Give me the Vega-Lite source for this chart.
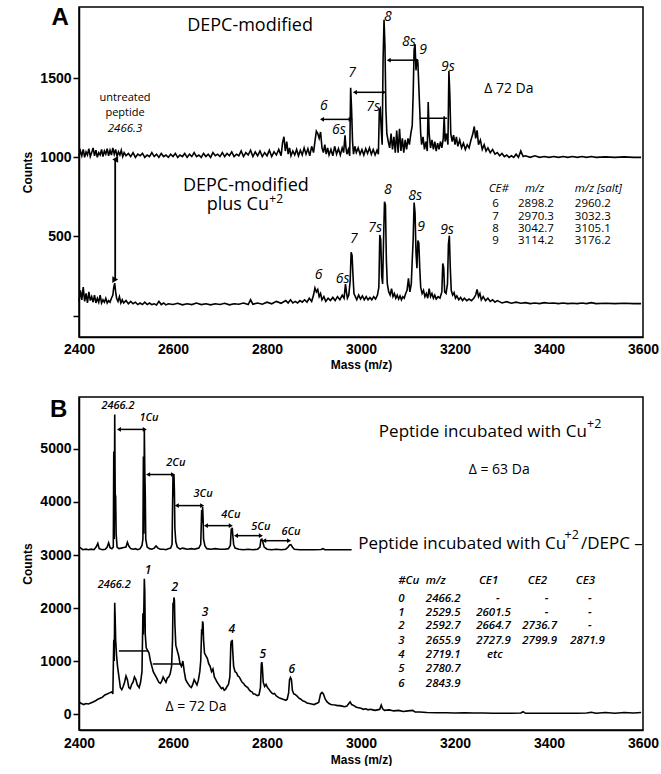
{
"$schema": "https://vega.github.io/schema/vega-lite/v6.json",
"padding": {"left": 20, "top": 5, "right": 0, "bottom": 0},
"background": "white",
"spacing": 60,
"bounds": "flush",
"config": {
  "font": "Open Sans",
  "view": {"stroke": "#000", "strokeWidth": 1.5},
  "axis": {"domainColor": "#000", "domainWidth": 1.5, "tickColor": "#000", "tickWidth": 1.5, "labelColor": "#000", "titleColor": "#000", "grid": false,
    "labelFont": "Liberation Sans Narrow, Liberation Sans", "labelFontWeight": "bold", "labelFontSize": 14,
    "titleFont": "Liberation Sans", "titleFontWeight": "bold", "titleFontSize": 12},
  "text": {"color": "#000", "baseline": "middle"}
},
"datasets": {
  "a1": [
{"m":2400,"c":1005},{"m":2403,"c":1040},{"m":2406,"c":1010},{"m":2409,"c":1050},{"m":2412,"c":1000},{"m":2415,"c":1035},{"m":2418,"c":1015},{"m":2421,"c":1055},{"m":2424,"c":1005},{"m":2427,"c":1030},{"m":2430,"c":1060},{"m":2433,"c":1010},{"m":2436,"c":1045},{"m":2439,"c":1000},{"m":2442,"c":1030},{"m":2445,"c":1015},{"m":2448,"c":1050},{"m":2451,"c":1005},{"m":2454,"c":1040},{"m":2457,"c":1020},{"m":2460,"c":1055},{"m":2463,"c":1010},{"m":2466,"c":1045},{"m":2469,"c":1015},{"m":2472,"c":1060},{"m":2475,"c":1020},{"m":2478,"c":1050},{"m":2481,"c":1005},{"m":2484,"c":1035},{"m":2487,"c":1015},{"m":2490,"c":1045},{"m":2493,"c":1005},{"m":2496,"c":1030},{"m":2500,"c":1010},{"m":2505,"c":1025},{"m":2510,"c":1005},{"m":2515,"c":1030},{"m":2520,"c":1000},{"m":2525,"c":1020},{"m":2530,"c":1010},{"m":2535,"c":1025},{"m":2540,"c":1000},{"m":2545,"c":1015},{"m":2550,"c":1005},{"m":2555,"c":1030},{"m":2560,"c":1005},{"m":2565,"c":1020},{"m":2570,"c":1000},{"m":2575,"c":1025},{"m":2580,"c":1005},{"m":2585,"c":1015},{"m":2590,"c":1000},{"m":2595,"c":1020},{"m":2600,"c":1005},{"m":2605,"c":1025},{"m":2610,"c":1000},{"m":2615,"c":1015},{"m":2620,"c":1005},{"m":2625,"c":1025},{"m":2630,"c":1000},{"m":2635,"c":1020},{"m":2640,"c":1005},{"m":2645,"c":1030},{"m":2650,"c":1005},{"m":2655,"c":1015},{"m":2660,"c":1000},{"m":2665,"c":1025},{"m":2670,"c":1005},{"m":2675,"c":1020},{"m":2680,"c":1000},{"m":2685,"c":1030},{"m":2690,"c":1010},{"m":2695,"c":1020},{"m":2700,"c":1005},{"m":2705,"c":1030},{"m":2710,"c":1005},{"m":2715,"c":1025},{"m":2720,"c":1010},{"m":2725,"c":1035},{"m":2730,"c":1005},{"m":2735,"c":1020},{"m":2740,"c":1010},{"m":2745,"c":1040},{"m":2750,"c":1005},{"m":2755,"c":1030},{"m":2760,"c":1015},{"m":2765,"c":1045},{"m":2770,"c":1005},{"m":2775,"c":1035},{"m":2780,"c":1010},{"m":2785,"c":1040},{"m":2790,"c":1005},{"m":2795,"c":1030},{"m":2800,"c":1010},{"m":2805,"c":1045},{"m":2810,"c":1005},{"m":2815,"c":1035},{"m":2820,"c":1015},{"m":2825,"c":1050},{"m":2830,"c":1010},{"m":2833,"c":1090},{"m":2836,"c":1130},{"m":2839,"c":1040},{"m":2842,"c":1100},{"m":2845,"c":1020},{"m":2848,"c":1060},{"m":2851,"c":1010},{"m":2855,"c":1040},{"m":2859,"c":1015},{"m":2863,"c":1050},{"m":2867,"c":1010},{"m":2871,"c":1045},{"m":2875,"c":1015},{"m":2879,"c":1060},{"m":2883,"c":1020},{"m":2887,"c":1055},{"m":2891,"c":1010},{"m":2895,"c":1070},{"m":2899,"c":1030},{"m":2902,"c":1100},{"m":2905,"c":1165},{"m":2908,"c":1150},{"m":2911,"c":1120},{"m":2914,"c":1160},{"m":2917,"c":1060},{"m":2920,"c":1030},{"m":2923,"c":1080},{"m":2926,"c":1020},{"m":2929,"c":1060},{"m":2932,"c":1015},{"m":2936,"c":1050},{"m":2940,"c":1010},{"m":2944,"c":1070},{"m":2948,"c":1020},{"m":2952,"c":1055},{"m":2956,"c":1015},{"m":2960,"c":1060},{"m":2963,"c":1030},{"m":2966,"c":1140},{"m":2968,"c":1060},{"m":2970,"c":1020},{"m":2973,"c":1050},{"m":2976,"c":1010},{"m":2978,"c":1440},{"m":2980,"c":1300},{"m":2982,"c":1100},{"m":2984,"c":1020},{"m":2987,"c":1070},{"m":2990,"c":1030},{"m":2994,"c":1060},{"m":2998,"c":1020},{"m":3002,"c":1050},{"m":3006,"c":1015},{"m":3010,"c":1055},{"m":3014,"c":1025},{"m":3018,"c":1060},{"m":3022,"c":1020},{"m":3026,"c":1050},{"m":3030,"c":1015},{"m":3034,"c":1045},{"m":3037,"c":1020},{"m":3039,"c":1300},{"m":3041,"c":1310},{"m":3043,"c":1180},{"m":3045,"c":1080},{"m":3047,"c":1620},{"m":3049,"c":1870},{"m":3051,"c":1700},{"m":3053,"c":1300},{"m":3055,"c":1150},{"m":3058,"c":1100},{"m":3061,"c":1060},{"m":3064,"c":1150},{"m":3067,"c":1050},{"m":3070,"c":1130},{"m":3073,"c":1030},{"m":3076,"c":1170},{"m":3079,"c":1030},{"m":3082,"c":1180},{"m":3085,"c":1040},{"m":3088,"c":1120},{"m":3091,"c":1030},{"m":3094,"c":1110},{"m":3097,"c":1050},{"m":3100,"c":1120},{"m":3103,"c":1080},{"m":3106,"c":1150},{"m":3109,"c":1200},{"m":3111,"c":1400},{"m":3113,"c":1680},{"m":3115,"c":1715},{"m":3117,"c":1550},{"m":3119,"c":1620},{"m":3121,"c":1600},{"m":3123,"c":1450},{"m":3125,"c":1300},{"m":3127,"c":1150},{"m":3129,"c":1080},{"m":3132,"c":1130},{"m":3135,"c":1050},{"m":3138,"c":1100},{"m":3141,"c":1040},{"m":3143,"c":1350},{"m":3145,"c":1150},{"m":3148,"c":1060},{"m":3151,"c":1110},{"m":3154,"c":1050},{"m":3157,"c":1100},{"m":3160,"c":1040},{"m":3163,"c":1090},{"m":3166,"c":1050},{"m":3169,"c":1100},{"m":3172,"c":1060},{"m":3175,"c":1120},{"m":3177,"c":1260},{"m":3179,"c":1100},{"m":3182,"c":1150},{"m":3185,"c":1080},{"m":3187,"c":1545},{"m":3189,"c":1400},{"m":3191,"c":1150},{"m":3194,"c":1100},{"m":3197,"c":1140},{"m":3200,"c":1080},{"m":3203,"c":1130},{"m":3206,"c":1070},{"m":3210,"c":1110},{"m":3214,"c":1060},{"m":3218,"c":1090},{"m":3222,"c":1050},{"m":3226,"c":1080},{"m":3230,"c":1060},{"m":3234,"c":1110},{"m":3238,"c":1150},{"m":3241,"c":1195},{"m":3244,"c":1120},{"m":3247,"c":1170},{"m":3250,"c":1080},{"m":3254,"c":1110},{"m":3258,"c":1050},{"m":3262,"c":1080},{"m":3266,"c":1040},{"m":3270,"c":1060},{"m":3275,"c":1030},{"m":3280,"c":1050},{"m":3285,"c":1020},{"m":3290,"c":1030},{"m":3295,"c":1010},{"m":3300,"c":1025},{"m":3305,"c":1005},{"m":3310,"c":1015},{"m":3315,"c":1000},{"m":3320,"c":1010},{"m":3325,"c":1000},{"m":3330,"c":1020},{"m":3335,"c":1000},{"m":3340,"c":1040},{"m":3345,"c":1005},{"m":3350,"c":1010},{"m":3360,"c":1000},{"m":3370,"c":1010},{"m":3380,"c":1000},{"m":3390,"c":1005},{"m":3400,"c":1000},{"m":3410,"c":1005},{"m":3420,"c":1000},{"m":3430,"c":1005},{"m":3440,"c":1000},{"m":3450,"c":1005},{"m":3460,"c":1000},{"m":3470,"c":1005},{"m":3480,"c":1000},{"m":3490,"c":1005},{"m":3500,"c":1000},{"m":3520,"c":1003},{"m":3540,"c":1000},{"m":3560,"c":1003},{"m":3580,"c":1000},{"m":3596,"c":1000}
  ],
  "a2": [
{"m":2400,"c":90},{"m":2403,"c":160},{"m":2406,"c":100},{"m":2409,"c":180},{"m":2412,"c":90},{"m":2415,"c":140},{"m":2418,"c":80},{"m":2421,"c":150},{"m":2424,"c":95},{"m":2427,"c":120},{"m":2430,"c":85},{"m":2433,"c":130},{"m":2436,"c":80},{"m":2439,"c":110},{"m":2442,"c":85},{"m":2445,"c":130},{"m":2448,"c":80},{"m":2451,"c":100},{"m":2454,"c":85},{"m":2457,"c":110},{"m":2460,"c":80},{"m":2463,"c":95},{"m":2466,"c":85},{"m":2469,"c":110},{"m":2472,"c":130},{"m":2474,"c":180},{"m":2476,"c":205},{"m":2478,"c":150},{"m":2480,"c":110},{"m":2483,"c":90},{"m":2486,"c":120},{"m":2489,"c":80},{"m":2492,"c":100},{"m":2495,"c":80},{"m":2500,"c":95},{"m":2505,"c":75},{"m":2510,"c":90},{"m":2515,"c":75},{"m":2520,"c":85},{"m":2525,"c":70},{"m":2530,"c":80},{"m":2535,"c":70},{"m":2540,"c":85},{"m":2545,"c":70},{"m":2550,"c":80},{"m":2555,"c":70},{"m":2560,"c":75},{"m":2565,"c":68},{"m":2570,"c":90},{"m":2575,"c":70},{"m":2580,"c":80},{"m":2585,"c":68},{"m":2590,"c":75},{"m":2600,"c":70},{"m":2610,"c":78},{"m":2620,"c":68},{"m":2630,"c":75},{"m":2640,"c":70},{"m":2650,"c":80},{"m":2660,"c":70},{"m":2670,"c":75},{"m":2680,"c":68},{"m":2690,"c":75},{"m":2700,"c":70},{"m":2710,"c":78},{"m":2720,"c":68},{"m":2730,"c":75},{"m":2740,"c":72},{"m":2750,"c":80},{"m":2760,"c":70},{"m":2765,"c":100},{"m":2770,"c":72},{"m":2780,"c":80},{"m":2790,"c":72},{"m":2800,"c":85},{"m":2810,"c":75},{"m":2820,"c":90},{"m":2830,"c":78},{"m":2840,"c":95},{"m":2845,"c":80},{"m":2850,"c":100},{"m":2855,"c":80},{"m":2860,"c":90},{"m":2865,"c":80},{"m":2870,"c":95},{"m":2875,"c":85},{"m":2880,"c":100},{"m":2885,"c":85},{"m":2890,"c":110},{"m":2895,"c":90},{"m":2899,"c":130},{"m":2902,"c":175},{"m":2905,"c":150},{"m":2908,"c":165},{"m":2911,"c":120},{"m":2914,"c":140},{"m":2917,"c":100},{"m":2921,"c":120},{"m":2925,"c":90},{"m":2930,"c":110},{"m":2935,"c":95},{"m":2940,"c":115},{"m":2945,"c":95},{"m":2950,"c":120},{"m":2955,"c":100},{"m":2960,"c":130},{"m":2964,"c":110},{"m":2967,"c":200},{"m":2969,"c":150},{"m":2971,"c":110},{"m":2974,"c":130},{"m":2977,"c":220},{"m":2979,"c":400},{"m":2981,"c":380},{"m":2983,"c":250},{"m":2985,"c":140},{"m":2988,"c":120},{"m":2991,"c":100},{"m":2995,"c":130},{"m":2999,"c":105},{"m":3003,"c":125},{"m":3007,"c":100},{"m":3011,"c":120},{"m":3015,"c":100},{"m":3019,"c":115},{"m":3023,"c":100},{"m":3027,"c":120},{"m":3031,"c":105},{"m":3035,"c":130},{"m":3038,"c":180},{"m":3040,"c":510},{"m":3042,"c":480},{"m":3044,"c":250},{"m":3046,"c":200},{"m":3048,"c":480},{"m":3050,"c":720},{"m":3052,"c":700},{"m":3054,"c":350},{"m":3056,"c":200},{"m":3059,"c":150},{"m":3062,"c":130},{"m":3065,"c":170},{"m":3068,"c":120},{"m":3071,"c":140},{"m":3074,"c":110},{"m":3077,"c":130},{"m":3080,"c":105},{"m":3083,"c":125},{"m":3086,"c":100},{"m":3089,"c":120},{"m":3092,"c":110},{"m":3095,"c":140},{"m":3098,"c":160},{"m":3101,"c":235},{"m":3104,"c":150},{"m":3107,"c":200},{"m":3109,"c":350},{"m":3111,"c":480},{"m":3113,"c":715},{"m":3115,"c":650},{"m":3117,"c":400},{"m":3119,"c":300},{"m":3121,"c":475},{"m":3123,"c":460},{"m":3125,"c":300},{"m":3127,"c":180},{"m":3130,"c":140},{"m":3133,"c":160},{"m":3136,"c":120},{"m":3139,"c":140},{"m":3142,"c":110},{"m":3145,"c":170},{"m":3148,"c":120},{"m":3151,"c":140},{"m":3154,"c":110},{"m":3157,"c":130},{"m":3160,"c":105},{"m":3164,"c":120},{"m":3168,"c":110},{"m":3172,"c":150},{"m":3174,"c":330},{"m":3176,"c":300},{"m":3178,"c":150},{"m":3181,"c":140},{"m":3184,"c":200},{"m":3186,"c":450},{"m":3188,"c":505},{"m":3190,"c":300},{"m":3192,"c":160},{"m":3195,"c":130},{"m":3198,"c":145},{"m":3201,"c":110},{"m":3204,"c":125},{"m":3208,"c":100},{"m":3212,"c":115},{"m":3216,"c":95},{"m":3220,"c":110},{"m":3225,"c":95},{"m":3230,"c":105},{"m":3235,"c":95},{"m":3240,"c":110},{"m":3244,"c":130},{"m":3247,"c":165},{"m":3250,"c":120},{"m":3253,"c":140},{"m":3256,"c":100},{"m":3260,"c":120},{"m":3265,"c":95},{"m":3270,"c":110},{"m":3275,"c":90},{"m":3280,"c":100},{"m":3285,"c":85},{"m":3290,"c":95},{"m":3300,"c":80},{"m":3310,"c":88},{"m":3320,"c":78},{"m":3330,"c":85},{"m":3340,"c":78},{"m":3350,"c":82},{"m":3360,"c":76},{"m":3370,"c":80},{"m":3380,"c":76},{"m":3390,"c":82},{"m":3400,"c":78},{"m":3410,"c":80},{"m":3420,"c":76},{"m":3430,"c":80},{"m":3440,"c":76},{"m":3450,"c":78},{"m":3460,"c":76},{"m":3470,"c":80},{"m":3480,"c":76},{"m":3490,"c":82},{"m":3500,"c":76},{"m":3520,"c":78},{"m":3540,"c":76},{"m":3560,"c":78},{"m":3580,"c":76},{"m":3596,"c":76}
  ],
  "b1": [
{"m":2400,"c":3150},{"m":2404,"c":3130},{"m":2408,"c":3100},{"m":2415,"c":3110},{"m":2420,"c":3100},{"m":2426,"c":3110},{"m":2432,"c":3100},{"m":2437,"c":3160},{"m":2440,"c":3220},{"m":2443,"c":3120},{"m":2450,"c":3100},{"m":2456,"c":3110},{"m":2460,"c":3150},{"m":2463,"c":3230},{"m":2466,"c":3140},{"m":2470,"c":3120},{"m":2473,"c":3150},{"m":2474,"c":4950},{"m":2475,"c":3300},{"m":2476,"c":5650},{"m":2477,"c":4150},{"m":2478,"c":4100},{"m":2479,"c":3400},{"m":2481,"c":3150},{"m":2485,"c":3120},{"m":2490,"c":3130},{"m":2495,"c":3140},{"m":2500,"c":3150},{"m":2503,"c":3240},{"m":2506,"c":3170},{"m":2510,"c":3120},{"m":2515,"c":3110},{"m":2520,"c":3120},{"m":2525,"c":3100},{"m":2530,"c":3120},{"m":2534,"c":3180},{"m":2536,"c":3300},{"m":2537,"c":4860},{"m":2538,"c":3400},{"m":2539,"c":5370},{"m":2540,"c":4600},{"m":2541,"c":4140},{"m":2542,"c":3300},{"m":2545,"c":3150},{"m":2550,"c":3120},{"m":2555,"c":3110},{"m":2560,"c":3130},{"m":2564,"c":3170},{"m":2568,"c":3130},{"m":2573,"c":3110},{"m":2580,"c":3110},{"m":2585,"c":3100},{"m":2590,"c":3120},{"m":2595,"c":3130},{"m":2598,"c":3200},{"m":2600,"c":4500},{"m":2601,"c":4100},{"m":2602,"c":4520},{"m":2603,"c":4200},{"m":2604,"c":3500},{"m":2606,"c":3250},{"m":2609,"c":3150},{"m":2615,"c":3110},{"m":2620,"c":3130},{"m":2625,"c":3120},{"m":2630,"c":3110},{"m":2640,"c":3120},{"m":2645,"c":3110},{"m":2650,"c":3120},{"m":2655,"c":3130},{"m":2659,"c":3200},{"m":2661,"c":3850},{"m":2662,"c":3600},{"m":2663,"c":3910},{"m":2664,"c":3700},{"m":2665,"c":3300},{"m":2668,"c":3170},{"m":2672,"c":3120},{"m":2680,"c":3110},{"m":2690,"c":3120},{"m":2700,"c":3110},{"m":2710,"c":3110},{"m":2718,"c":3120},{"m":2722,"c":3180},{"m":2724,"c":3500},{"m":2725,"c":3450},{"m":2726,"c":3515},{"m":2727,"c":3400},{"m":2729,"c":3200},{"m":2732,"c":3130},{"m":2740,"c":3110},{"m":2750,"c":3100},{"m":2760,"c":3110},{"m":2770,"c":3100},{"m":2780,"c":3110},{"m":2785,"c":3150},{"m":2787,"c":3290},{"m":2789,"c":3300},{"m":2791,"c":3250},{"m":2794,"c":3150},{"m":2800,"c":3110},{"m":2810,"c":3100},{"m":2820,"c":3110},{"m":2830,"c":3100},{"m":2840,"c":3110},{"m":2845,"c":3150},{"m":2848,"c":3190},{"m":2851,"c":3195},{"m":2854,"c":3150},{"m":2858,"c":3110},{"m":2870,"c":3100},{"m":2885,"c":3100},{"m":2900,"c":3100},{"m":2915,"c":3105},{"m":2919,"c":3120},{"m":2923,"c":3100},{"m":2940,"c":3100},{"m":2960,"c":3100},{"m":2980,"c":3100}
  ],
  "b2": [
{"m":2400,"c":230},{"m":2405,"c":200},{"m":2410,"c":180},{"m":2415,"c":200},{"m":2420,"c":190},{"m":2425,"c":210},{"m":2430,"c":230},{"m":2435,"c":250},{"m":2440,"c":280},{"m":2445,"c":300},{"m":2450,"c":320},{"m":2455,"c":360},{"m":2460,"c":380},{"m":2465,"c":400},{"m":2470,"c":420},{"m":2472,"c":380},{"m":2474,"c":1400},{"m":2475,"c":1000},{"m":2476,"c":2100},{"m":2477,"c":1800},{"m":2478,"c":1400},{"m":2480,"c":1100},{"m":2482,"c":900},{"m":2485,"c":700},{"m":2488,"c":500},{"m":2491,"c":460},{"m":2494,"c":520},{"m":2497,"c":600},{"m":2500,"c":720},{"m":2503,"c":650},{"m":2506,"c":500},{"m":2509,"c":480},{"m":2512,"c":560},{"m":2515,"c":600},{"m":2518,"c":700},{"m":2521,"c":650},{"m":2524,"c":550},{"m":2528,"c":500},{"m":2531,"c":600},{"m":2534,"c":800},{"m":2536,"c":1900},{"m":2537,"c":1500},{"m":2538,"c":2000},{"m":2539,"c":2550},{"m":2540,"c":2300},{"m":2541,"c":1500},{"m":2543,"c":1250},{"m":2546,"c":1200},{"m":2549,"c":1150},{"m":2552,"c":1000},{"m":2555,"c":900},{"m":2558,"c":800},{"m":2561,"c":750},{"m":2564,"c":700},{"m":2567,"c":650},{"m":2570,"c":600},{"m":2573,"c":580},{"m":2576,"c":620},{"m":2579,"c":700},{"m":2582,"c":650},{"m":2585,"c":600},{"m":2588,"c":680},{"m":2591,"c":700},{"m":2594,"c":760},{"m":2597,"c":900},{"m":2599,"c":1400},{"m":2600,"c":2100},{"m":2601,"c":2000},{"m":2602,"c":2200},{"m":2603,"c":2150},{"m":2604,"c":1700},{"m":2606,"c":1300},{"m":2609,"c":1200},{"m":2612,"c":1100},{"m":2615,"c":950},{"m":2618,"c":900},{"m":2621,"c":1000},{"m":2624,"c":800},{"m":2627,"c":650},{"m":2630,"c":600},{"m":2633,"c":560},{"m":2636,"c":520},{"m":2639,"c":500},{"m":2642,"c":560},{"m":2645,"c":650},{"m":2648,"c":600},{"m":2651,"c":550},{"m":2654,"c":640},{"m":2657,"c":800},{"m":2659,"c":1000},{"m":2661,"c":1600},{"m":2662,"c":1500},{"m":2663,"c":1750},{"m":2664,"c":1700},{"m":2665,"c":1400},{"m":2667,"c":1150},{"m":2670,"c":1100},{"m":2673,"c":1050},{"m":2676,"c":950},{"m":2679,"c":900},{"m":2682,"c":800},{"m":2685,"c":850},{"m":2688,"c":700},{"m":2691,"c":650},{"m":2694,"c":600},{"m":2697,"c":560},{"m":2700,"c":520},{"m":2703,"c":480},{"m":2706,"c":500},{"m":2709,"c":450},{"m":2712,"c":470},{"m":2715,"c":520},{"m":2718,"c":560},{"m":2721,"c":700},{"m":2723,"c":1300},{"m":2724,"c":1380},{"m":2725,"c":1300},{"m":2726,"c":1400},{"m":2727,"c":1200},{"m":2729,"c":900},{"m":2732,"c":800},{"m":2735,"c":780},{"m":2738,"c":720},{"m":2741,"c":700},{"m":2744,"c":650},{"m":2747,"c":600},{"m":2750,"c":580},{"m":2753,"c":540},{"m":2756,"c":520},{"m":2759,"c":500},{"m":2762,"c":460},{"m":2765,"c":430},{"m":2768,"c":420},{"m":2771,"c":380},{"m":2774,"c":380},{"m":2777,"c":360},{"m":2780,"c":350},{"m":2783,"c":360},{"m":2786,"c":500},{"m":2788,"c":950},{"m":2789,"c":980},{"m":2790,"c":900},{"m":2792,"c":600},{"m":2795,"c":520},{"m":2798,"c":560},{"m":2801,"c":500},{"m":2804,"c":470},{"m":2807,"c":430},{"m":2810,"c":400},{"m":2813,"c":380},{"m":2816,"c":390},{"m":2819,"c":350},{"m":2822,"c":330},{"m":2825,"c":310},{"m":2828,"c":300},{"m":2831,"c":290},{"m":2834,"c":280},{"m":2837,"c":270},{"m":2840,"c":260},{"m":2843,"c":280},{"m":2846,"c":400},{"m":2848,"c":650},{"m":2850,"c":690},{"m":2852,"c":650},{"m":2854,"c":450},{"m":2857,"c":380},{"m":2860,"c":370},{"m":2864,"c":340},{"m":2868,"c":300},{"m":2872,"c":280},{"m":2876,"c":250},{"m":2880,"c":240},{"m":2885,"c":210},{"m":2890,"c":200},{"m":2895,"c":190},{"m":2900,"c":180},{"m":2905,"c":200},{"m":2910,"c":220},{"m":2914,"c":380},{"m":2917,"c":410},{"m":2920,"c":380},{"m":2924,"c":280},{"m":2928,"c":230},{"m":2932,"c":200},{"m":2936,"c":180},{"m":2940,"c":175},{"m":2945,"c":170},{"m":2950,"c":160},{"m":2955,"c":160},{"m":2960,"c":150},{"m":2965,"c":140},{"m":2970,"c":150},{"m":2974,"c":200},{"m":2977,"c":230},{"m":2980,"c":180},{"m":2985,"c":160},{"m":2990,"c":130},{"m":2995,"c":120},{"m":3000,"c":110},{"m":3005,"c":90},{"m":3010,"c":100},{"m":3015,"c":80},{"m":3020,"c":90},{"m":3025,"c":80},{"m":3030,"c":70},{"m":3035,"c":80},{"m":3040,"c":90},{"m":3043,"c":170},{"m":3046,"c":100},{"m":3050,"c":70},{"m":3060,"c":80},{"m":3070,"c":60},{"m":3080,"c":70},{"m":3090,"c":50},{"m":3100,"c":60},{"m":3110,"c":70},{"m":3115,"c":40},{"m":3125,"c":40},{"m":3140,"c":30},{"m":3160,"c":25},{"m":3180,"c":25},{"m":3200,"c":20},{"m":3220,"c":25},{"m":3240,"c":20},{"m":3260,"c":20},{"m":3280,"c":15},{"m":3300,"c":15},{"m":3320,"c":15},{"m":3340,"c":20},{"m":3345,"c":45},{"m":3350,"c":15},{"m":3380,"c":15},{"m":3400,"c":15},{"m":3420,"c":15},{"m":3440,"c":15},{"m":3460,"c":15},{"m":3480,"c":20},{"m":3490,"c":35},{"m":3500,"c":15},{"m":3520,"c":30},{"m":3540,"c":15},{"m":3560,"c":30},{"m":3580,"c":20},{"m":3596,"c":30}
  ],
  "arrA": [{"m":2917,"m2":2978,"c":1240},{"m":2987,"m2":3049,"c":1411},{"m":3059,"m2":3119,"c":1614}],
  "linA": [{"m":3125,"m2":3183,"c":1247}],
  "varrA": [{"m":2477,"c":987,"c2":228}],
  "arrB": [{"m":2485,"m2":2540,"c":5369},{"m":2547,"m2":2600,"c":4518},{"m":2608,"m2":2662,"c":3932},{"m":2670,"m2":2723,"c":3554},{"m":2734,"m2":2787,"c":3365},{"m":2794,"m2":2847,"c":3270}],
  "linB": [{"m":2485,"m2":2547,"c":1191},{"m":2557,"m2":2617,"c":945}]
},
"vconcat": [
{
  "width": 564, "height": 330,
  "encoding": {
    "x": {"field": "m", "type": "quantitative", "scale": {"domain": [2400, 3600], "nice": false, "zero": false},
      "axis": {"title": "Mass (m/z)", "values": [2400, 2600, 2800, 3000, 3200, 3400, 3600], "format": "d", "ticks": false, "labelPadding": 5, "labelFlush": false, "titlePadding": 3}},
    "y": {"field": "c", "type": "quantitative", "scale": {"domain": [-135, 1950], "nice": false, "zero": false},
      "axis": {"title": "Counts", "values": [0, 500, 1000, 1500], "format": "d", "labelExpr": "datum.value == 0 ? '' : datum.label", "tickSize": 6, "labelPadding": 2, "minExtent": 42, "maxExtent": 42, "titlePadding": 3}}
  },
  "layer": [
    {"data": {"name": "a1"}, "mark": {"type": "line", "color": "#000", "strokeWidth": 1.6}},
    {"data": {"name": "a2"}, "mark": {"type": "line", "color": "#000", "strokeWidth": 1.6}},
    {"data": {"name": "arrA"}, "mark": {"type": "rule", "color": "#000", "strokeWidth": 1.5}, "encoding": {"x2": {"field": "m2"}}},
    {"data": {"name": "arrA"}, "transform": [{"fold": ["m", "m2"], "as": ["end", "m"]}],
      "mark": {"type": "point", "filled": true, "color": "#000", "opacity": 1, "size": 22},
      "encoding": {"shape": {"field": "end", "type": "nominal", "scale": {"domain": ["m", "m2"], "range": ["triangle-left", "triangle-right"]}, "legend": null}}},
    {"data": {"name": "linA"}, "mark": {"type": "rule", "color": "#000", "strokeWidth": 1.5}, "encoding": {"x2": {"field": "m2"}}},
    {"data": {"name": "varrA"}, "mark": {"type": "rule", "color": "#000", "strokeWidth": 1.8}, "encoding": {"y2": {"field": "c2"}}},
    {"data": {"name": "varrA"}, "transform": [{"fold": ["c", "c2"], "as": ["end", "c"]}],
      "mark": {"type": "point", "filled": true, "color": "#000", "opacity": 1, "size": 45},
      "encoding": {"shape": {"field": "end", "type": "nominal", "scale": {"domain": ["c", "c2"], "range": ["triangle-up", "triangle-down"]}, "legend": null}}},
    {"data": {"values": [{"m":2764,"c":1829,"t":"DEPC-modified"},{"m":2755,"c":816,"t":"DEPC-modified"},{"m":2738,"c":700,"t":"plus Cu"}]},
      "mark": {"type": "text", "fontSize": 18}, "encoding": {"text": {"field": "t"}}},
    {"data": {"values": [{"m":2805,"c":740,"t":"+2"}]},
      "mark": {"type": "text", "fontSize": 12, "align": "left"}, "encoding": {"text": {"field": "t"}}},
    {"data": {"values": [{"m":3057,"c":1886,"t":"8"},{"m":3102,"c":1728,"t":"8s"},{"m":3132,"c":1677,"t":"9"},{"m":3185,"c":1570,"t":"9s"},{"m":2981,"c":1532,"t":"7"},{"m":3026,"c":1316,"t":"7s"},{"m":2921,"c":1323,"t":"6"},{"m":2953,"c":1170,"t":"6s"},
        {"m":2910,"c":259,"t":"6"},{"m":2961,"c":234,"t":"6s"},{"m":2985,"c":487,"t":"7"},{"m":3030,"c":551,"t":"7s"},{"m":3057,"c":791,"t":"8"},{"m":3115,"c":753,"t":"8s"},{"m":3128,"c":563,"t":"9"},{"m":3183,"c":538,"t":"9s"}]},
      "mark": {"type": "text", "fontSize": 14, "fontStyle": "italic"}, "encoding": {"text": {"field": "t"}}},
    {"data": {"values": [{"m":2498,"c":1373,"t":"untreated"},{"m":2498,"c":1278,"t":"peptide"}]},
      "mark": {"type": "text", "fontSize": 11}, "encoding": {"text": {"field": "t"}}},
    {"data": {"values": [{"m":2498,"c":1177,"t":"2466.3"}]},
      "mark": {"type": "text", "fontSize": 11.5, "fontStyle": "italic"}, "encoding": {"text": {"field": "t"}}},
    {"data": {"values": [{"m":3262,"c":1430,"t":"Δ 72 Da"}]},
      "mark": {"type": "text", "fontSize": 14, "align": "left"}, "encoding": {"text": {"field": "t"}}},
    {"data": {"values": [{"m":3272,"c":797,"t":"CE#"},{"m":3349,"c":797,"t":"m/z"},{"m":3455,"c":797,"t":"m/z [salt]"}]},
      "mark": {"type": "text", "fontSize": 11.5, "fontStyle": "italic", "align": "left"}, "encoding": {"text": {"field": "t"}}},
    {"data": {"values": [
        {"m":3279,"c":703,"t":"6"},{"m":3334,"c":703,"t":"2898.2"},{"m":3455,"c":703,"t":"2960.2"},
        {"m":3279,"c":625,"t":"7"},{"m":3334,"c":625,"t":"2970.3"},{"m":3455,"c":625,"t":"3032.3"},
        {"m":3279,"c":547,"t":"8"},{"m":3334,"c":547,"t":"3042.7"},{"m":3455,"c":547,"t":"3105.1"},
        {"m":3279,"c":469,"t":"9"},{"m":3334,"c":469,"t":"3114.2"},{"m":3455,"c":469,"t":"3176.2"}]},
      "mark": {"type": "text", "fontSize": 11.5, "align": "left"}, "encoding": {"text": {"field": "t"}}},
    {"data": {"values": [{"m":2360,"c":1880,"t":"A"}]},
      "mark": {"type": "text", "fontSize": 24, "fontWeight": "bold", "font": "Liberation Sans"}, "encoding": {"text": {"field": "t"}}}
  ]
},
{
  "width": 564, "height": 333,
  "encoding": {
    "x": {"field": "m", "type": "quantitative", "scale": {"domain": [2400, 3600], "nice": false, "zero": false},
      "axis": {"title": "Mass (m/z)", "values": [2400, 2600, 2800, 3000, 3200, 3400, 3600], "format": "d", "ticks": false, "labelPadding": 6, "labelFlush": false, "titlePadding": 4}},
    "y": {"field": "c", "type": "quantitative", "scale": {"domain": [-300, 5980], "nice": false, "zero": false},
      "axis": {"title": "Counts", "values": [0, 1000, 2000, 3000, 4000, 5000], "format": "d", "tickSize": 6, "labelPadding": 2, "minExtent": 42, "maxExtent": 42, "titlePadding": 3}}
  },
  "layer": [
    {"data": {"name": "b1"}, "mark": {"type": "line", "color": "#000", "strokeWidth": 1.6}},
    {"data": {"name": "b2"}, "mark": {"type": "line", "color": "#000", "strokeWidth": 1.6}},
    {"data": {"name": "arrB"}, "mark": {"type": "rule", "color": "#000", "strokeWidth": 1.5}, "encoding": {"x2": {"field": "m2"}}},
    {"data": {"name": "arrB"}, "transform": [{"fold": ["m", "m2"], "as": ["end", "m"]}],
      "mark": {"type": "point", "filled": true, "color": "#000", "opacity": 1, "size": 22},
      "encoding": {"shape": {"field": "end", "type": "nominal", "scale": {"domain": ["m", "m2"], "range": ["triangle-left", "triangle-right"]}, "legend": null}}},
    {"data": {"name": "linB"}, "mark": {"type": "rule", "color": "#000", "strokeWidth": 1.5}, "encoding": {"x2": {"field": "m2"}}},
    {"data": {"values": [{"m":3038,"c":5320,"t":"Peptide incubated with Cu"},{"m":2994,"c":3215,"t":"Peptide incubated with Cu"},{"m":3468,"c":3215,"t":"/DEPC –"}]},
      "mark": {"type": "text", "fontSize": 17, "align": "left"}, "encoding": {"text": {"field": "t"}}},
    {"data": {"values": [{"m":3481,"c":5470,"t":"+2"},{"m":3433,"c":3380,"t":"+2"}]},
      "mark": {"type": "text", "fontSize": 12.5, "align": "left"}, "encoding": {"text": {"field": "t"}}},
    {"data": {"values": [{"m":3294,"c":4612,"t":"Δ = 63 Da"},{"m":2649,"c":132,"t":"Δ = 72 Da"}]},
      "mark": {"type": "text", "fontSize": 14}, "encoding": {"text": {"field": "t"}}},
    {"data": {"values": [{"m":2483,"c":5803,"t":"2466.2"},{"m":2549,"c":5577,"t":"1Cu"},{"m":2606,"c":4726,"t":"2Cu"},{"m":2664,"c":4159,"t":"3Cu"},{"m":2723,"c":3762,"t":"4Cu"},{"m":2787,"c":3535,"t":"5Cu"},{"m":2851,"c":3440,"t":"6Cu"},
        {"m":2475,"c":2439,"t":"2466.2"}]},
      "mark": {"type": "text", "fontSize": 11, "fontStyle": "italic", "fontWeight": 600}, "encoding": {"text": {"field": "t"}}},
    {"data": {"values": [{"m":2547,"c":2722,"t":"1"},{"m":2604,"c":2400,"t":"2"},{"m":2668,"c":1928,"t":"3"},{"m":2725,"c":1607,"t":"4"},{"m":2791,"c":1134,"t":"5"},{"m":2853,"c":851,"t":"6"}]},
      "mark": {"type": "text", "fontSize": 12, "fontStyle": "italic", "fontWeight": 600}, "encoding": {"text": {"field": "t"}}},
    {"data": {"values": [
        {"m":3079,"c":2514,"t":"#Cu"},{"m":3138,"c":2514,"t":"m/z"},{"m":3251,"c":2514,"t":"CE1"},{"m":3355,"c":2514,"t":"CE2"},{"m":3457,"c":2514,"t":"CE3"},
        {"m":3079,"c":2174,"t":"0"},{"m":3138,"c":2174,"t":"2466.2"},{"m":3287,"c":2174,"t":"-"},{"m":3391,"c":2174,"t":"-"},{"m":3483,"c":2174,"t":"-"},
        {"m":3079,"c":1909,"t":"1"},{"m":3138,"c":1909,"t":"2529.5"},{"m":3245,"c":1909,"t":"2601.5"},{"m":3391,"c":1909,"t":"-"},{"m":3483,"c":1909,"t":"-"},
        {"m":3079,"c":1663,"t":"2"},{"m":3138,"c":1663,"t":"2592.7"},{"m":3245,"c":1663,"t":"2664.7"},{"m":3343,"c":1663,"t":"2736.7"},{"m":3483,"c":1663,"t":"-"},
        {"m":3079,"c":1380,"t":"3"},{"m":3138,"c":1380,"t":"2655.9"},{"m":3245,"c":1380,"t":"2727.9"},{"m":3343,"c":1380,"t":"2799.9"},{"m":3445,"c":1380,"t":"2871.9"},
        {"m":3079,"c":1115,"t":"4"},{"m":3138,"c":1115,"t":"2719.1"},{"m":3268,"c":1115,"t":"etc"},
        {"m":3079,"c":851,"t":"5"},{"m":3138,"c":851,"t":"2780.7"},
        {"m":3079,"c":567,"t":"6"},{"m":3138,"c":567,"t":"2843.9"}]},
      "mark": {"type": "text", "fontSize": 11.5, "fontStyle": "italic", "fontWeight": 600, "align": "left"}, "encoding": {"text": {"field": "t"}}},
    {"data": {"values": [{"m":2357,"c":5728,"t":"B"}]},
      "mark": {"type": "text", "fontSize": 24, "fontWeight": "bold", "font": "Liberation Sans"}, "encoding": {"text": {"field": "t"}}}
  ]
}
]
}
